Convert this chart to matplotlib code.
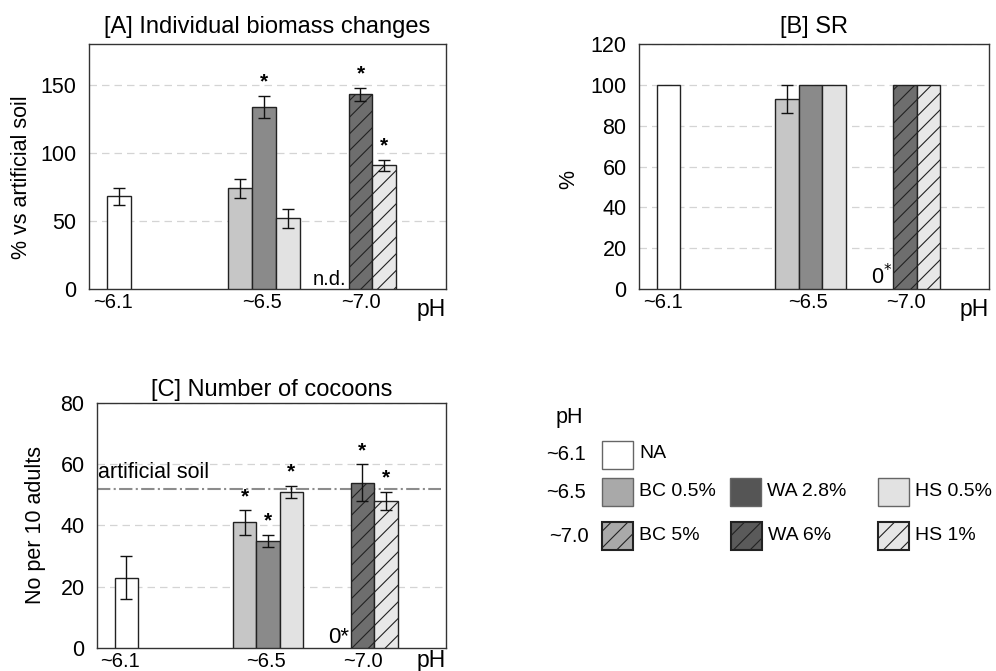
import matplotlib
matplotlib.use("Agg")
import matplotlib.pyplot as plt
from matplotlib.patches import Rectangle

plt.rcParams["font.family"] = ["Liberation Sans", "DejaVu Sans"]
plt.rcParams["hatch.linewidth"] = 0.8

# ---- data ------------------------------------------------------------- #
treatments = ["NA", "BC 0.5%", "WA 2.8%", "HS 0.5%", "BC 5%", "WA 6%", "HS 1%"]
group_labels = ["~6.1", "~6.5", "~7.0"]

biomass = [68, 74, 134, 52, None, 143, 91]         # None -> n.d.
biomass_err = [6, 7, 8, 7, 0, 5, 4]
biomass_star = [False, False, True, False, False, True, True]

sr = [100, 93, 100, 100, 0, 100, 100]
sr_err = [0, 7, 0, 0, 0, 0, 0]

cocoons = [23, 41, 35, 51, 0, 54, 48]
cocoons_err = [7, 4, 2, 2, 0, 6, 3]
cocoons_star = [False, True, True, True, False, True, True]
artificial_soil = 52

# ---- styling ---------------------------------------------------------- #
POS = [1.25, 6.3, 7.3, 8.3, 10.33, 11.33, 12.33]
TICK_POS = [1.0, 7.2, 11.35]
XLIM = (0, 14.9)
FILL = ["white", "#c6c6c6", "#8a8a8a", "#e2e2e2", "#c6c6c6", "#6e6e6e", "#e8e8e8"]
HATCH = [None, None, None, None, "//", "//", "//"]
LEG_FILL = ["white", "#a9a9a9", "#555555", "#e2e2e2", "#a9a9a9", "#5a5a5a", "#e6e6e6"]
EDGE = "#222222"

fig = plt.figure(figsize=(9.96, 6.71), dpi=100)
axA = fig.add_axes([0.0894, 0.5693, 0.3584, 0.3651])
axB = fig.add_axes([0.6416, 0.5693, 0.3514, 0.3651])
axC = fig.add_axes([0.0974, 0.0343, 0.3504, 0.3651])


def draw_bars(ax, vals, errs, ylim, yticks, ph_y=-0.035):
    for i, v in enumerate(vals):
        if v is None or v == 0:
            continue
        ax.bar(POS[i], v, width=1.0, color=FILL[i], edgecolor=EDGE,
               linewidth=1.0, hatch=HATCH[i], zorder=3)
        if errs[i]:
            ax.errorbar(POS[i], v, yerr=errs[i], fmt="none", ecolor="#111111",
                        elinewidth=1.0, capsize=4, capthick=1.0, zorder=4)
    ax.set_xlim(*XLIM)
    ax.set_ylim(*ylim)
    ax.set_yticks(yticks)
    ax.set_xticks(TICK_POS)
    ax.set_xticklabels(group_labels, fontsize=14.5)
    ax.tick_params(axis="both", length=0)
    ax.tick_params(axis="y", labelsize=15.5, pad=9)
    ax.tick_params(axis="x", pad=3)
    for t in yticks[1:]:
        ax.axhline(t, color="#d4d4d4", ls=(0, (6, 4)), lw=0.9, zorder=1)
    for s in ax.spines.values():
        s.set_color("#333333")
        s.set_linewidth(1.0)
    ax.text(1.0, ph_y, "pH", transform=ax.transAxes, ha="right", va="top",
            fontsize=16.5)


def draw_stars(ax, vals, errs, stars):
    for i, s in enumerate(stars):
        if s:
            ax.annotate("*", (POS[i], vals[i] + errs[i]), xytext=(0, 3),
                        textcoords="offset points", ha="center", va="bottom",
                        fontsize=15, fontweight="bold")


# [A]
draw_bars(axA, biomass, biomass_err, (0, 180), [0, 50, 100, 150])
draw_stars(axA, biomass, biomass_err, biomass_star)
axA.text(POS[4] - 0.3, 0, "n.d.", ha="center", va="bottom", fontsize=14.5)
axA.set_title("[A] Individual biomass changes", fontsize=17, pad=8)
axA.set_ylabel("% vs artificial soil", fontsize=15.5)
axA.yaxis.set_label_coords(-0.16, 0.455)

# [B]
draw_bars(axB, sr, sr_err, (0, 120), [0, 20, 40, 60, 80, 100, 120])
axB.text(POS[4], 0, "0$^{*}$", ha="center", va="bottom", fontsize=15.5)
axB.set_title("[B] SR", fontsize=17, pad=8)
axB.set_ylabel("%", fontsize=15.5)
axB.yaxis.set_label_coords(-0.17, 0.445)

# [C]
draw_bars(axC, cocoons, cocoons_err, (0, 80), [0, 20, 40, 60, 80], ph_y=-0.006)
draw_stars(axC, cocoons, cocoons_err, cocoons_star)
axC.axhline(artificial_soil, xmin=0.0, xmax=0.985, color="#8c8c8c",
            ls="-.", lw=1.5, zorder=2)
axC.text(0.035, artificial_soil + 1.8, "artificial soil", ha="left",
         va="bottom", fontsize=15.5)
axC.text(POS[4], 0, "0*", ha="center", va="bottom", fontsize=16)
axC.set_title("[C] Number of cocoons", fontsize=17, pad=5)
axC.set_ylabel("No per 10 adults", fontsize=15.5, labelpad=10)

# ---- legend (drawn in figure pixel space) ------------------------------ #
leg = fig.add_axes([0, 0, 1, 1], zorder=-1)
leg.set_xlim(0, 996)
leg.set_ylim(671, 0)
leg.axis("off")
leg.text(556, 418, "pH", ha="left", va="center", fontsize=15.5)
row_y = [455, 492, 536]
for r, lab in enumerate(group_labels):
    leg.text(546 if r < 2 else 549, row_y[r], lab, ha="left", va="center",
             fontsize=14.5)
# (treatment index, swatch left x, row)
slots = [(0, 602, 0), (1, 602, 1), (2, 730, 1), (3, 878, 1),
         (4, 602, 2), (5, 731, 2), (6, 878, 2)]
for idx, x0, r in slots:
    rect = Rectangle((x0, row_y[r] - 14), 31, 28, facecolor=LEG_FILL[idx],
                     edgecolor="#222222" if HATCH[idx] else "#666666",
                     linewidth=1.5 if HATCH[idx] else 1.0,
                     hatch=HATCH[idx])
    leg.add_patch(rect)
    leg.text(x0 + 37, row_y[r] - 1, treatments[idx], ha="left", va="center",
             fontsize=14)

fig.savefig("out.png", dpi=100)
